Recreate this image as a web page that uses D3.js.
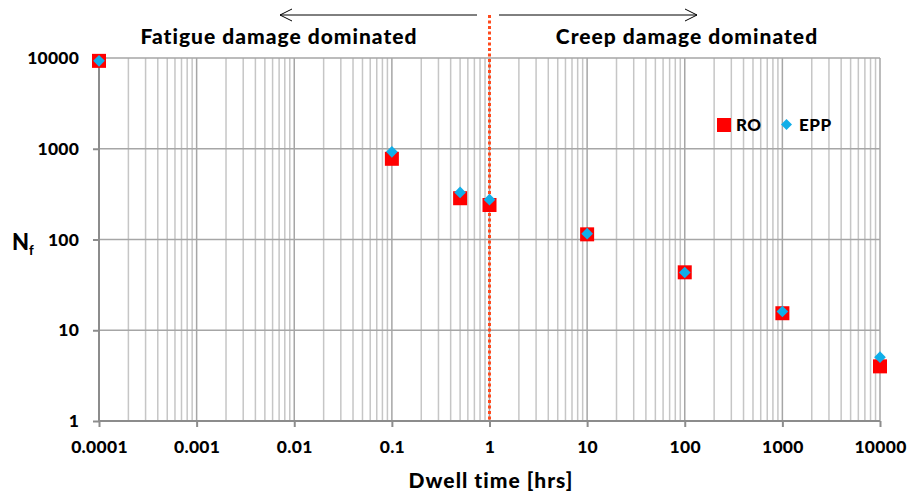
<!DOCTYPE html>
<html>
<head>
<meta charset="utf-8">
<script src="https://cdn.jsdelivr.net/npm/d3@7"></script>
<style>
  html, body { margin: 0; padding: 0; background: #fff; }
  text { font-family: Lato, "Open Sans", "Liberation Sans", sans-serif; font-weight: 900; fill: #000; }
</style>
</head>
<body>
<svg id="chart" width="911" height="501"></svg>
<script>
// Dwell times [hrs] and cycles to failure for the two material models
const dwellTimes = [0.0001, 0.1, 0.5, 1, 10, 100, 1000, 10000];
const roValues   = [9300, 775, 285, 240, 114, 43.5, 15.4, 4.0];
const eppValues  = [9300, 925, 330, 275, 116, 43.3, 16.1, 5.05];
const xTickValues = [0.0001, 0.001, 0.01, 0.1, 1, 10, 100, 1000, 10000];
const xTickLabels = ["0.0001", "0.001", "0.01", "0.1", "1", "10", "100", "1000", "10000"];
const yTickValues = [1, 10, 100, 1000, 10000];
const yTickLabels = ["1", "10", "100", "1000", "10000"];
const regimeLabels = ["Fatigue damage dominated", "Creep damage dominated"];
const seriesNames = ["RO", "EPP"];
const transitionTime = 1;

const svg = d3.select("#chart");
const plotLeft = 99, plotRight = 880, plotTop = 58, plotBottom = 421;

const x = d3.scaleLog().domain([0.0001, 10000]).range([plotLeft, plotRight]);
const y = d3.scaleLog().domain([1, 10000]).range([plotBottom, plotTop]);

// minor and major grid
const minorX = [];
for (let e = -4; e < 4; e++) for (let m = 2; m <= 9; m++) minorX.push(m * Math.pow(10, e));
svg.append("g").selectAll("line").data(minorX).join("line")
  .attr("x1", d => x(d)).attr("x2", d => x(d))
  .attr("y1", plotTop).attr("y2", plotBottom)
  .attr("stroke", "#c6c6c6").attr("stroke-width", 1.5);

svg.append("g").selectAll("line").data(xTickValues).join("line")
  .attr("x1", d => x(d)).attr("x2", d => x(d))
  .attr("y1", plotTop).attr("y2", plotBottom)
  .attr("stroke", "#a6a6a6").attr("stroke-width", 1.5);

svg.append("g").selectAll("line").data(yTickValues).join("line")
  .attr("x1", plotLeft).attr("x2", plotRight)
  .attr("y1", d => y(d)).attr("y2", d => y(d))
  .attr("stroke", "#a6a6a6").attr("stroke-width", 1.5);

// axes
const xAxis = d3.axisBottom(x).tickValues(xTickValues)
  .tickFormat((d, i) => xTickLabels[i]).tickSize(6).tickPadding(14);
const gx = svg.append("g").attr("transform", `translate(0,${plotBottom})`).call(xAxis);
gx.selectAll(".tick line").attr("stroke", "#8c8c8c").attr("stroke-width", 2);
gx.selectAll(".tick text").style("font-size", "17.5px").style("letter-spacing", "0.3px");

const yAxis = d3.axisLeft(y).tickValues(yTickValues)
  .tickFormat((d, i) => yTickLabels[i]).tickSize(6).tickPadding(14);
const gy = svg.append("g").attr("transform", `translate(${plotLeft},0)`).call(yAxis);
gy.selectAll(".tick line").attr("stroke", "#8c8c8c").attr("stroke-width", 2);
gy.selectAll(".tick text").style("font-size", "17.5px").style("letter-spacing", "0.2px");
svg.selectAll(".domain").remove();

// axis lines without end caps
svg.append("line").attr("x1", plotLeft).attr("x2", plotRight).attr("y1", plotBottom).attr("y2", plotBottom)
  .attr("stroke", "#8c8c8c").attr("stroke-width", 2);
svg.append("line").attr("x1", plotLeft).attr("x2", plotLeft).attr("y1", plotTop).attr("y2", plotBottom)
  .attr("stroke", "#8c8c8c").attr("stroke-width", 2);

// transition line between regimes
svg.append("line")
  .attr("x1", x(transitionTime)).attr("x2", x(transitionTime))
  .attr("y1", 15).attr("y2", plotBottom)
  .attr("stroke", "#ff4a1c").attr("stroke-width", 3)
  .attr("stroke-dasharray", "3,2.5");

// direction arrows
const arrowY = 15;
function arrow(x1, x2) {
  const dir = Math.sign(x2 - x1);
  svg.append("line").attr("x1", x1).attr("x2", x2).attr("y1", arrowY).attr("y2", arrowY)
    .attr("stroke", "#000").attr("stroke-width", 1);
  svg.append("path")
    .attr("d", `M${x2 - dir * 12},${arrowY - 6} L${x2},${arrowY} L${x2 - dir * 12},${arrowY + 6}`)
    .attr("fill", "none").attr("stroke", "#000").attr("stroke-width", 1);
}
arrow(477, 280);
arrow(499, 697);

svg.append("text").attr("x", 279).attr("y", 44).attr("text-anchor", "middle")
  .style("font-size", "21px").style("letter-spacing", "1px").text(regimeLabels[0]);
svg.append("text").attr("x", 687).attr("y", 44).attr("text-anchor", "middle")
  .style("font-size", "21px").style("letter-spacing", "1px").text(regimeLabels[1]);

// data points
const sq = 14;
svg.append("g").selectAll("rect").data(dwellTimes).join("rect")
  .attr("x", d => x(d) - sq / 2)
  .attr("y", (d, i) => y(roValues[i]) - sq / 2)
  .attr("width", sq).attr("height", sq).attr("fill", "#ff0000");

svg.append("g").selectAll("path").data(dwellTimes).join("path")
  .attr("transform", (d, i) => `translate(${x(d)},${y(eppValues[i])}) rotate(45)`)
  .attr("d", d3.symbol().type(d3.symbolSquare).size(68))
  .attr("fill", "#11aee8");

// legend
svg.append("rect").attr("x", 717).attr("y", 118).attr("width", 14).attr("height", 14).attr("fill", "#ff0000");
svg.append("text").attr("x", 736).attr("y", 130.5).style("font-size", "17px").style("letter-spacing", "0.5px").text(seriesNames[0]);
svg.append("path").attr("transform", "translate(786.5,124.5) rotate(45)")
  .attr("d", d3.symbol().type(d3.symbolSquare).size(60)).attr("fill", "#11aee8");
svg.append("text").attr("x", 799).attr("y", 130.5).style("font-size", "17px").style("letter-spacing", "0.5px").text(seriesNames[1]);

// axis titles
svg.append("text").attr("x", 491).attr("y", 488).attr("text-anchor", "middle")
  .style("font-size", "21px").style("letter-spacing", "1px").text("Dwell time [hrs]");
const yt = svg.append("text").attr("x", 12).attr("y", 250).style("font-size", "22px");
yt.append("tspan").text("N");
yt.append("tspan").attr("dy", 5).style("font-size", "13px").text("f");
</script>
</body>
</html>
